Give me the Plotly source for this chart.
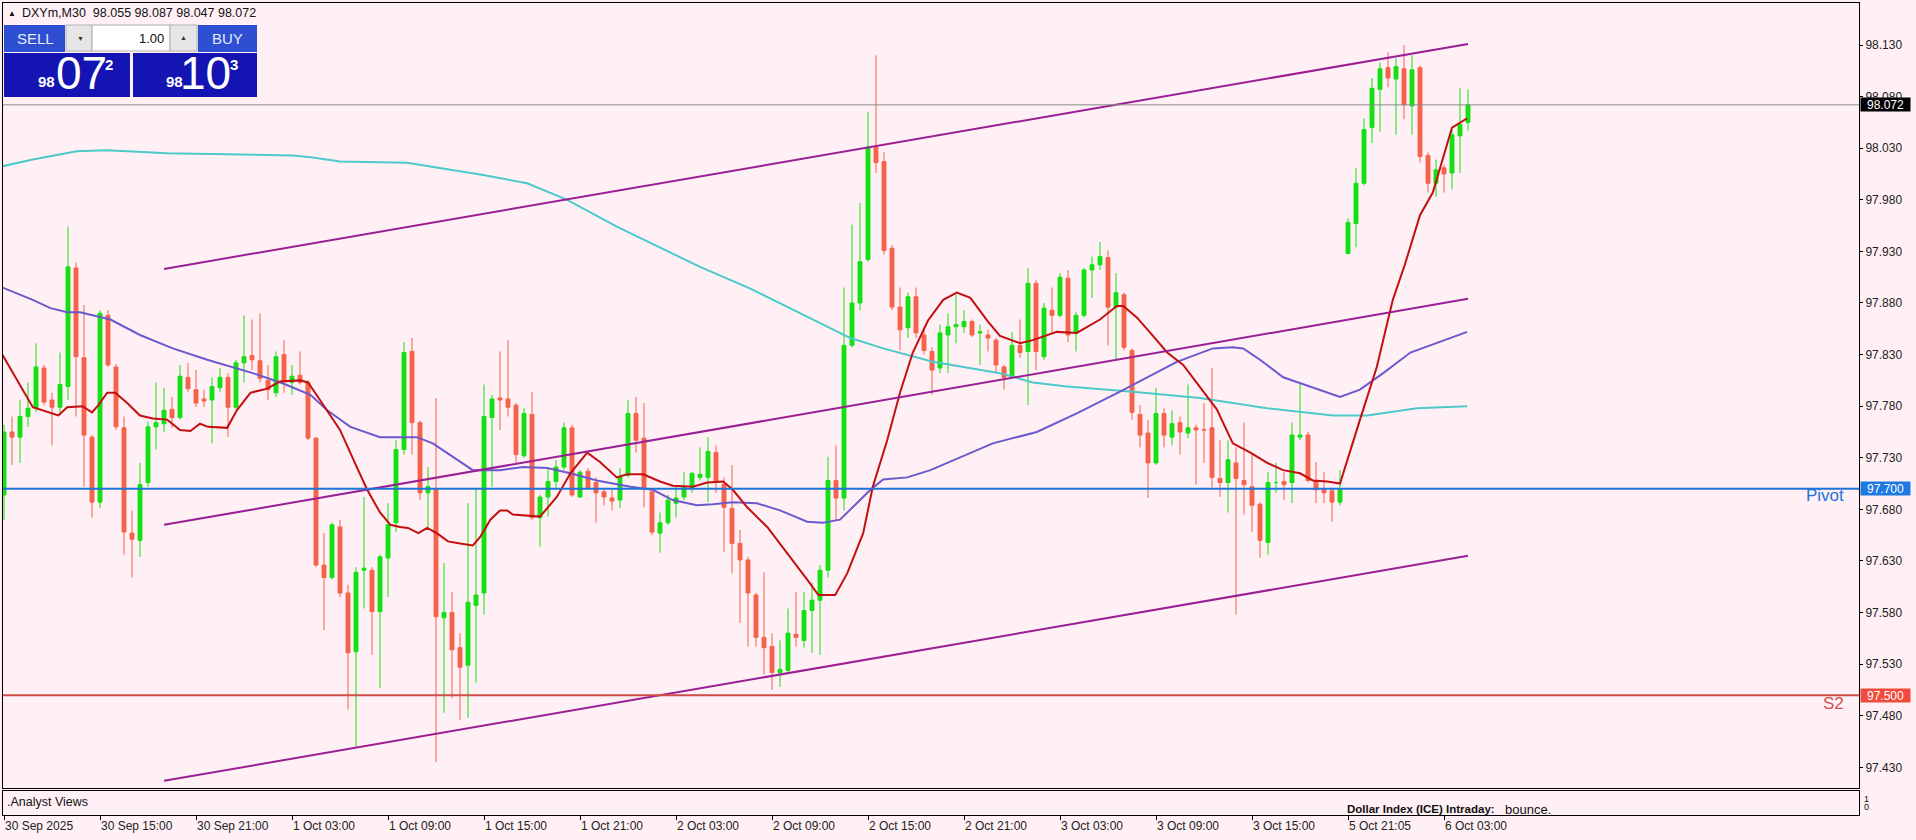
import plotly.graph_objects as go

# ---------------- data ----------------
x_labels = ["30 Sep 2025", "30 Sep 15:00", "30 Sep 21:00", "1 Oct 03:00", "1 Oct 09:00",
            "1 Oct 15:00", "1 Oct 21:00", "2 Oct 03:00", "2 Oct 09:00", "2 Oct 15:00",
            "2 Oct 21:00", "3 Oct 03:00", "3 Oct 09:00", "3 Oct 15:00", "5 Oct 21:05",
            "6 Oct 03:00"]
x_label_bar = [0, 12, 24, 36, 48, 60, 72, 84, 96, 108, 120, 132, 144, 156, 168, 180]

y_ticks = [97.430, 97.480, 97.530, 97.580, 97.630, 97.680, 97.730, 97.780, 97.830,
           97.880, 97.930, 97.980, 98.030, 98.080, 98.130]

opens = [97.694, 97.755, 97.750, 97.770, 97.778, 97.817, 97.786, 97.779, 97.799, 97.914,
         97.827, 97.750, 97.687, 97.868, 97.818, 97.759, 97.657, 97.650, 97.706, 97.760,
         97.763, 97.777, 97.769, 97.808, 97.796, 97.787, 97.786, 97.798, 97.808, 97.779,
         97.822, 97.829, 97.824, 97.805, 97.793, 97.830, 97.803, 97.810, 97.803, 97.749,
         97.626, 97.614, 97.663, 97.599, 97.542, 97.621, 97.621, 97.581, 97.633, 97.667,
         97.738, 97.833, 97.764, 97.696, 97.699, 97.575, 97.580, 97.546, 97.529, 97.587,
         97.599, 97.769, 97.788, 97.787, 97.781, 97.732, 97.772, 97.672, 97.692, 97.707,
         97.721, 97.759, 97.692, 97.717, 97.706, 97.697, 97.691, 97.689, 97.713, 97.773,
         97.749, 97.697, 97.657, 97.667, 97.686, 97.692, 97.701, 97.711, 97.711, 97.735,
         97.704, 97.681, 97.647, 97.631, 97.597, 97.556, 97.547, 97.522, 97.524, 97.559,
         97.553, 97.582, 97.592, 97.621, 97.708, 97.691, 97.839, 97.880, 97.922, 98.031,
         98.017, 97.933, 97.876, 97.856, 97.886, 97.849, 97.833, 97.817, 97.849, 97.857,
         97.857, 97.862, 97.851, 97.849, 97.844, 97.818, 97.808, 97.839, 97.833, 97.899,
         97.828, 97.873, 97.868, 97.904, 97.851, 97.868, 97.912, 97.917, 97.924, 97.876,
         97.888, 97.834, 97.772, 97.754, 97.725, 97.773, 97.750, 97.764, 97.754, 97.759,
         97.757, 97.759, 97.710, 97.706, 97.725, 97.708, 97.702, 97.685, 97.648, 97.706,
         97.707, 97.706, 97.750, 97.752, 97.708, 97.699, 97.698, 97.687, 97.928, 97.957,
         97.996, 98.050, 98.087, 98.108, 98.097, 98.107, 98.071, 98.108, 98.023, 97.996,
         98.011, 98.006, 98.042, 98.055]

highs = [97.762, 97.770, 97.786, 97.803, 97.841, 97.820, 97.793, 97.832, 97.954, 97.919,
         97.878, 97.752, 97.873, 97.873, 97.821, 97.770, 97.679, 97.725, 97.765, 97.803,
         97.798, 97.789, 97.820, 97.822, 97.815, 97.796, 97.808, 97.817, 97.812, 97.825,
         97.868, 97.864, 97.870, 97.820, 97.833, 97.844, 97.820, 97.833, 97.805, 97.750,
         97.657, 97.667, 97.670, 97.607, 97.624, 97.692, 97.624, 97.636, 97.686, 97.747,
         97.842, 97.846, 97.766, 97.721, 97.788, 97.628, 97.600, 97.560, 97.686, 97.701,
         97.801, 97.791, 97.833, 97.844, 97.783, 97.778, 97.794, 97.694, 97.720, 97.728,
         97.764, 97.762, 97.718, 97.720, 97.711, 97.701, 97.699, 97.720, 97.786, 97.789,
         97.783, 97.699, 97.677, 97.694, 97.702, 97.716, 97.716, 97.740, 97.750, 97.742,
         97.711, 97.723, 97.660, 97.634, 97.599, 97.619, 97.560, 97.553, 97.584, 97.600,
         97.600, 97.609, 97.626, 97.731, 97.742, 97.895, 97.956, 97.977, 98.065, 98.120,
         98.026, 97.936, 97.895, 97.890, 97.895, 97.857, 97.837, 97.859, 97.870, 97.888,
         97.873, 97.864, 97.859, 97.854, 97.846, 97.820, 97.852, 97.864, 97.914, 97.902,
         97.880, 97.895, 97.909, 97.912, 97.871, 97.914, 97.925, 97.939, 97.931, 97.909,
         97.890, 97.836, 97.781, 97.767, 97.798, 97.778, 97.776, 97.770, 97.801, 97.762,
         97.783, 97.817, 97.747, 97.747, 97.740, 97.764, 97.733, 97.687, 97.716, 97.725,
         97.716, 97.764, 97.803, 97.755, 97.726, 97.716, 97.701, 97.718, 97.962, 98.011,
         98.059, 98.098, 98.113, 98.123, 98.117, 98.130, 98.120, 98.110, 98.026, 98.019,
         98.014, 98.048, 98.088, 98.087]

lows = [97.670, 97.723, 97.725, 97.760, 97.774, 97.781, 97.742, 97.773, 97.786, 97.770,
        97.702, 97.672, 97.681, 97.818, 97.757, 97.636, 97.614, 97.634, 97.702, 97.738,
        97.755, 97.759, 97.767, 97.794, 97.779, 97.779, 97.744, 97.794, 97.750, 97.777,
        97.803, 97.815, 97.803, 97.786, 97.789, 97.793, 97.791, 97.801, 97.747, 97.624,
        97.563, 97.612, 97.595, 97.486, 97.450, 97.584, 97.539, 97.507, 97.595, 97.658,
        97.733, 97.733, 97.689, 97.663, 97.435, 97.483, 97.497, 97.476, 97.478, 97.512,
        97.578, 97.702, 97.757, 97.770, 97.725, 97.730, 97.670, 97.644, 97.673, 97.699,
        97.718, 97.692, 97.691, 97.699, 97.667, 97.684, 97.679, 97.681, 97.711, 97.735,
        97.682, 97.655, 97.638, 97.665, 97.672, 97.689, 97.696, 97.708, 97.687, 97.696,
        97.639, 97.618, 97.570, 97.547, 97.547, 97.520, 97.505, 97.508, 97.522, 97.547,
        97.546, 97.541, 97.539, 97.614, 97.670, 97.679, 97.837, 97.873, 97.920, 98.006,
        97.927, 97.873, 97.834, 97.846, 97.846, 97.830, 97.791, 97.812, 97.812, 97.841,
        97.851, 97.847, 97.820, 97.833, 97.812, 97.796, 97.807, 97.827, 97.781, 97.815,
        97.825, 97.851, 97.866, 97.842, 97.833, 97.866, 97.885, 97.912, 97.839, 97.825,
        97.834, 97.767, 97.740, 97.691, 97.723, 97.740, 97.742, 97.733, 97.749, 97.704,
        97.725, 97.701, 97.692, 97.677, 97.578, 97.675, 97.658, 97.633, 97.636, 97.696,
        97.689, 97.686, 97.747, 97.706, 97.686, 97.686, 97.668, 97.684, 97.927, 97.934,
        97.994, 98.035, 98.046, 98.089, 98.043, 98.058, 98.043, 98.016, 97.987, 97.983,
        97.987, 97.990, 98.006, 98.047]

closes = [97.755, 97.750, 97.770, 97.778, 97.818, 97.784, 97.779, 97.801, 97.915, 97.828,
          97.752, 97.687, 97.870, 97.820, 97.760, 97.658, 97.651, 97.704, 97.760, 97.764,
          97.776, 97.769, 97.809, 97.797, 97.783, 97.785, 97.799, 97.808, 97.779, 97.822,
          97.828, 97.825, 97.807, 97.796, 97.828, 97.805, 97.809, 97.803, 97.749, 97.626,
          97.614, 97.665, 97.599, 97.541, 97.619, 97.623, 97.581, 97.634, 97.665, 97.738,
          97.832, 97.764, 97.696, 97.702, 97.576, 97.580, 97.544, 97.527, 97.590, 97.597,
          97.770, 97.787, 97.786, 97.779, 97.733, 97.773, 97.672, 97.692, 97.707, 97.721,
          97.759, 97.694, 97.716, 97.701, 97.696, 97.692, 97.688, 97.711, 97.773, 97.747,
          97.701, 97.658, 97.667, 97.689, 97.691, 97.701, 97.715, 97.714, 97.736, 97.706,
          97.682, 97.647, 97.631, 97.599, 97.556, 97.546, 97.522, 97.525, 97.560, 97.556,
          97.582, 97.592, 97.621, 97.708, 97.691, 97.839, 97.880, 97.920, 98.031, 98.016,
          97.931, 97.876, 97.854, 97.886, 97.851, 97.834, 97.815, 97.851, 97.857, 97.859,
          97.862, 97.849, 97.852, 97.846, 97.820, 97.808, 97.839, 97.832, 97.899, 97.833,
          97.875, 97.868, 97.905, 97.849, 97.868, 97.912, 97.917, 97.925, 97.876, 97.890,
          97.837, 97.774, 97.752, 97.725, 97.773, 97.752, 97.763, 97.755, 97.759, 97.757,
          97.757, 97.711, 97.706, 97.728, 97.710, 97.704, 97.684, 97.650, 97.706, 97.706,
          97.704, 97.752, 97.752, 97.708, 97.699, 97.696, 97.687, 97.699, 97.958, 97.996,
          98.048, 98.088, 98.107, 98.098, 98.109, 98.072, 98.106, 98.022, 97.996, 98.009,
          98.005, 98.043, 98.053, 98.072]

# moving averages, sampled along the drawn lines (bar position, price)
ma_fast_x = [-0.5, 3.6, 6.8, 7.9, 9.8, 11, 11.8, 12.9, 13.9, 15.4, 17, 18.6, 20.4, 22, 23.3,
             24.5, 25.5, 27.9, 29.1, 30.8, 32.9, 34.5, 37, 38, 39.5, 42, 44.1, 45.4, 47, 48.3,
             49.5, 50.5, 51.8, 52.9, 54.1, 55.5, 57, 58.6, 59.5, 60.8, 62, 62.9, 63.6, 66.1,
             67, 69.1, 70.8, 72.9, 74.5, 76.6, 77.9, 79.9, 82, 83.6, 86.1, 87.9, 89.9, 91.1,
             92.9, 95.4, 97.9, 100.4, 101.8, 103.9, 105.4, 107.4, 108.6, 110.4, 112, 113.6,
             115.5, 117.4, 119.1, 120.8, 122.9, 124.5, 127, 128.6, 131.6, 134.1, 137, 139.1,
             139.9, 141.6, 143.3, 145.4, 147.4, 149.5, 151.6, 153.6, 155.8, 157.9, 159.9, 162,
             163.6, 165.4, 167, 169.5, 171.6, 173.6, 175.1, 177, 178.6, 181, 182.9]
ma_fast_y = [97.834, 97.779, 97.771, 97.779, 97.780, 97.774, 97.781, 97.793, 97.793, 97.783,
             97.771, 97.768, 97.767, 97.757, 97.756, 97.763, 97.760, 97.759, 97.776, 97.793,
             97.797, 97.804, 97.805, 97.803, 97.786, 97.757, 97.721, 97.699, 97.677, 97.665,
             97.663, 97.662, 97.657, 97.662, 97.657, 97.649, 97.647, 97.645, 97.653, 97.670,
             97.679, 97.679, 97.675, 97.673, 97.673, 97.692, 97.715, 97.735, 97.726, 97.711,
             97.714, 97.714, 97.707, 97.703, 97.702, 97.706, 97.707, 97.699, 97.682, 97.663,
             97.638, 97.612, 97.597, 97.597, 97.618, 97.657, 97.702, 97.747, 97.793, 97.832,
             97.863, 97.883, 97.890, 97.885, 97.863, 97.848, 97.841, 97.844, 97.852, 97.851,
             97.864, 97.877, 97.877, 97.866, 97.851, 97.832, 97.820, 97.799, 97.777, 97.744,
             97.735, 97.725, 97.718, 97.715, 97.708, 97.707, 97.705, 97.767, 97.818, 97.883,
             97.917, 97.965, 97.987, 98.050, 98.059]

ma_mid_x = [-0.5, 3.6, 5.8, 7.9, 9.5, 13.3, 17, 21.1, 25.4, 29.5, 31.1, 34.9, 38.3, 40.4, 43.3,
            47, 49.5, 51.6, 53.6, 58.6, 62, 64.9, 67.9, 70.8, 74.1, 78.3, 81.1, 83.6, 86.6,
            88.6, 91.1, 94.1, 97, 100.4, 102.4, 104.5, 106.6, 108.3, 109.9, 112.9, 115.8,
            119.5, 123.6, 129.1, 134.1, 139.5, 142.9, 146.6, 151.1, 153.6, 154.9, 157, 159.9,
            163.6, 167, 169.5, 172.4, 175.8, 179.1, 182.9]
ma_mid_y = [97.896, 97.883, 97.875, 97.871, 97.871, 97.864, 97.849, 97.836, 97.825, 97.816,
            97.812, 97.802, 97.791, 97.776, 97.760, 97.750, 97.750, 97.750, 97.744, 97.718,
            97.718, 97.721, 97.720, 97.715, 97.708, 97.702, 97.699, 97.689, 97.684, 97.685,
            97.687, 97.686, 97.679, 97.668, 97.667, 97.670, 97.686, 97.699, 97.709, 97.711,
            97.718, 97.730, 97.744, 97.755, 97.773, 97.794, 97.808, 97.823, 97.836, 97.837,
            97.836, 97.825, 97.808, 97.798, 97.789, 97.796, 97.812, 97.832, 97.841, 97.852]

ma_slow_x = [-0.5, 3.6, 9.1, 12.9, 20.4, 36.1, 38.6, 42, 50.4, 54.5, 59.9, 65.4, 70.4, 76.6,
             80.8, 87, 93.3, 99.5, 102.9, 105.8, 109.9, 116.1, 124.5, 128.6, 132.9, 141.1,
             149.5, 157.9, 166.1, 170.4, 176.6, 182.9]
ma_slow_y = [98.012, 98.019, 98.027, 98.028, 98.025, 98.023, 98.021, 98.017, 98.016, 98.011,
             98.004, 97.996, 97.980, 97.954, 97.938, 97.915, 97.894, 97.870, 97.857, 97.846,
             97.836, 97.823, 97.812, 97.803, 97.799, 97.794, 97.788, 97.778, 97.771, 97.771,
             97.778, 97.780]

# price channel (start bar, end bar) and its three lines
chan_x = [20, 183]
chan_upper = [97.913, 98.131]
chan_middle = [97.665, 97.884]
chan_lower = [97.417, 97.635]

pivot_level = 97.700
s2_level = 97.500
last_price = 98.072
header_text = "DXYm,M30  98.055 98.087 98.047 98.072"

# ---------------- styling ----------------
BG = "#fff0f5"
UP = "#14e014"
DN = "#f4634b"
FONT = "Liberation Sans"
NARROW = "Liberation Sans Narrow, Liberation Sans, Arial"

W, H = 1916, 840
ML, MR, MT, MB = 3, 57, 3, 25
PW, PH = W - ML - MR, H - MT - MB


def px(x):
    return (x - ML) / PW


def py(y):
    return (H - MB - y) / PH


bars = list(range(len(opens)))
x_range = [(ML - 4) / 8.0, (W - MR - 4) / 8.0]
y_range = [97.410, 98.1707]

fig = go.Figure()

fig.add_trace(go.Candlestick(
    x=bars, open=opens, high=highs, low=lows, close=closes,
    increasing=dict(line=dict(color=UP, width=1), fillcolor=UP),
    decreasing=dict(line=dict(color=DN, width=1), fillcolor=DN),
    whiskerwidth=0, hoverinfo="skip", showlegend=False, xaxis="x", yaxis="y"))

for xs, ys, col in [(ma_slow_x, ma_slow_y, "#4cc9c9"),
                    (ma_mid_x, ma_mid_y, "#6a5acd"),
                    (ma_fast_x, ma_fast_y, "#c40f0f")]:
    fig.add_trace(go.Scatter(x=xs, y=ys, mode="lines", line=dict(color=col, width=2),
                             hoverinfo="skip", showlegend=False, xaxis="x", yaxis="y"))

for ys in (chan_upper, chan_middle, chan_lower):
    fig.add_trace(go.Scatter(x=chan_x, y=ys, mode="lines", line=dict(color="#9b1f94", width=2),
                             hoverinfo="skip", showlegend=False, xaxis="x", yaxis="y"))

# invisible trace to keep the indicator sub-pane alive
fig.add_trace(go.Scatter(x=[0], y=[0.5], mode="markers", marker=dict(opacity=0),
                         hoverinfo="skip", showlegend=False, xaxis="x2", yaxis="y2"))

shapes = []
# horizontal levels
shapes.append(dict(type="line", xref="paper", yref="y", x0=0, x1=1, y0=last_price, y1=last_price,
                   line=dict(color="#8a8a8a", width=1)))
shapes.append(dict(type="line", xref="paper", yref="y", x0=0, x1=1, y0=pivot_level, y1=pivot_level,
                   line=dict(color="#1e74d8", width=2)))
shapes.append(dict(type="line", xref="paper", yref="y", x0=0, x1=1, y0=s2_level, y1=s2_level,
                   line=dict(color="#cf4f47", width=2)))


def rect(x0, y0, x1, y1, fill, line=None):
    shapes.append(dict(type="rect", xref="paper", yref="paper",
                       x0=px(x0), x1=px(x1), y0=py(y1), y1=py(y0),
                       fillcolor=fill, line=dict(width=1 if line else 0, color=line or fill),
                       layer="above"))


# one-click trading panel
rect(4, 25, 65, 52, "#2f4fd2")
rect(66, 25, 92, 51, "#e6e6e6", "#b0b0b0")
rect(92, 25, 170, 51, "#ffffff", "#b0b0b0")
rect(170, 25, 197, 51, "#e6e6e6", "#b0b0b0")
rect(198, 25, 257, 52, "#2f4fd2")
rect(4, 53, 130, 97, "#1414b2")
rect(133, 53, 257, 97, "#1414b2")

ann = []


def text(x, y, s, size, color="#111111", anchor="left", family=FONT, yanchor="middle"):
    ann.append(dict(xref="paper", yref="paper", x=px(x), y=py(y), text=s, showarrow=False,
                    xanchor=anchor, yanchor=yanchor, font=dict(family=family, size=size, color=color)))


text(6, 13, "▲", 8)
text(20, 13, header_text, 12.5)
text(35, 38.5, "SELL", 15, "#e4ebff", "center", NARROW)
text(227, 38.5, "BUY", 15, "#e4ebff", "center", NARROW)
text(80, 38, "▼", 7, "#333333", "center")
text(183, 37, "▲", 7, "#333333", "center")
text(166, 38, "1.00", 13, "#111111", "right")
text(46, 82, "<b>98</b>", 15, "#ffffff", "center", NARROW)
text(81, 73, "07", 46, "#ffffff", "center", NARROW)
text(109, 64, "<b>2</b>", 15, "#ffffff", "center", NARROW)
text(174, 82, "<b>98</b>", 15, "#ffffff", "center", NARROW)
text(205, 73, "10", 46, "#ffffff", "center", NARROW)
text(234, 64, "<b>3</b>", 15, "#ffffff", "center", NARROW)

# level names
ann.append(dict(xref="paper", yref="y", x=px(1846), y=pivot_level, yshift=-7, text="Pivot",
                showarrow=False, xanchor="right", yanchor="middle",
                font=dict(family=FONT, size=17, color="#1e74d8")))
ann.append(dict(xref="paper", yref="y", x=px(1846), y=s2_level, yshift=-8, text="S2",
                showarrow=False, xanchor="right", yanchor="middle",
                font=dict(family=FONT, size=17, color="#d0504a")))

# price tags on the right scale
for lvl, bg in [(last_price, "#000000"), (pivot_level, "#1e7ae2"), (s2_level, "#f04b3b")]:
    ann.append(dict(xref="paper", yref="y", x=px(1860), y=lvl, text=f"{lvl:.3f}", showarrow=False,
                    xanchor="left", yanchor="middle", width=49, height=13, borderpad=0,
                    bgcolor=bg, align="center", font=dict(family=FONT, size=12, color="#ffffff")))

# indicator sub-window texts
text(5, 802, ".Analyst Views", 12.5, "#111111", "left", NARROW)
text(1345, 809, "<b>Dollar Index (ICE) Intraday:</b>", 11.5, "#111111", "left", NARROW)
text(1503, 809, "bounce.", 13, "#111111", "left", NARROW)
text(1862, 799, "1", 9, "#111111", "left")
text(1862, 807, "0", 9, "#111111", "left")

axis_common = dict(showgrid=False, zeroline=False, showline=True, linecolor="#000000",
                   linewidth=1, mirror=True)

fig.update_layout(
    width=W, height=H, margin=dict(l=ML, r=MR, t=MT, b=MB, pad=0),
    paper_bgcolor=BG, plot_bgcolor=BG, showlegend=False, hovermode=False,
    xaxis=dict(domain=[0, 1], anchor="y", range=x_range, showticklabels=False, ticks="",
               rangeslider=dict(visible=False), **axis_common),
    yaxis=dict(domain=[(H - MB - 788) / PH, 1], anchor="x", side="right", range=y_range,
               tickvals=y_ticks, ticktext=[f"{v:.3f}" for v in y_ticks],
               ticks="outside", ticklen=3, tickcolor="#000000",
               tickfont=dict(family=FONT, size=12, color="#222222"), **axis_common),
    xaxis2=dict(domain=[0, 1], anchor="y2", range=x_range, tickvals=x_label_bar, ticktext=x_labels,
                ticks="outside", ticklen=4, tickcolor="#000000", ticklabelposition="outside right",
                tickfont=dict(family=FONT, size=12, color="#222222"), **axis_common),
    yaxis2=dict(domain=[0, (H - MB - 791) / PH], anchor="x2", range=[0, 1], showticklabels=False,
                ticks="", **axis_common),
    shapes=shapes, annotations=ann,
)

fig.write_html("out.html", config={"displayModeBar": False},
               post_script="document.body.style.margin='0px';document.body.style.overflow='hidden';")
